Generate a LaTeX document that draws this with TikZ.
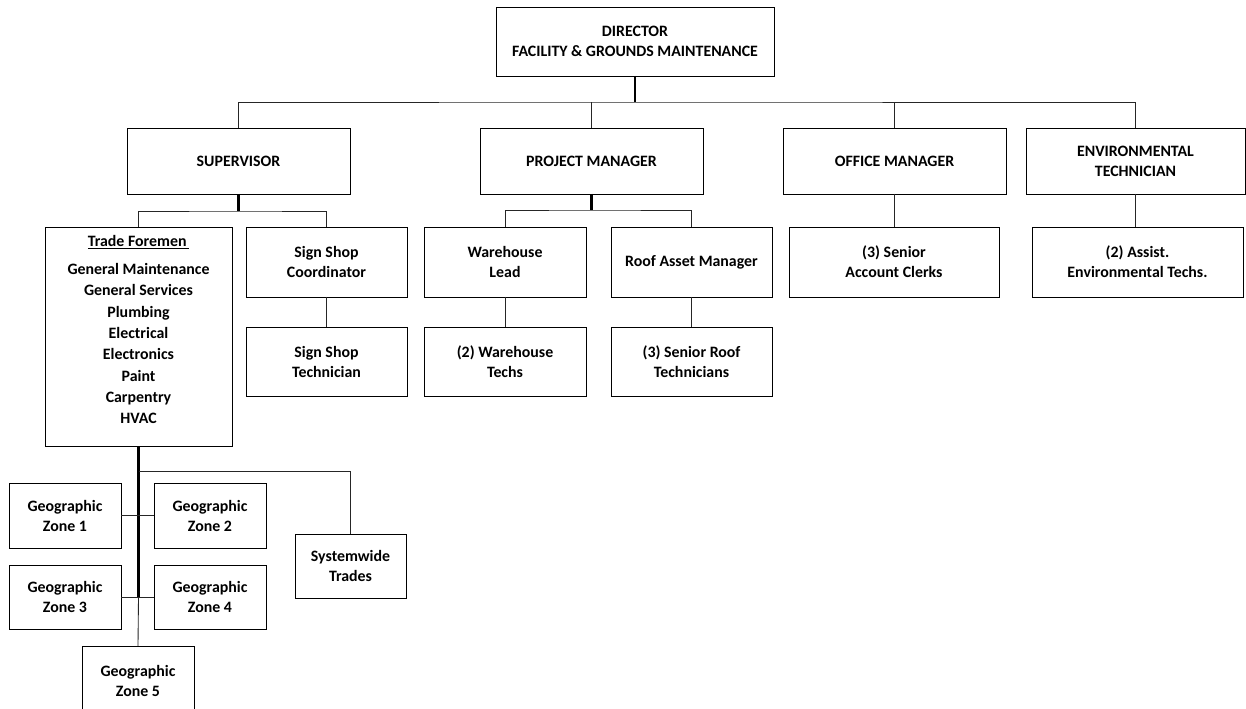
\documentclass[tikz,border=0pt]{standalone}
\usepackage{fontspec}
\setmainfont{Carlito}
\usetikzlibrary{calc}
\tikzset{
  box/.style={draw=black, line width=0.7pt, fill=white, inner sep=0pt, outer sep=0pt, align=center,
    font=\fontsize{11.9}{15}\selectfont\bfseries},
  txt/.style={inner sep=0pt, align=center, font=\fontsize{11.9}{15}\selectfont\bfseries},
  thn/.style={draw=black!85, line width=0.65pt},
  thk/.style={draw=black, line width=1.6pt},
}
\newcommand\bx[6]{\node[box, minimum width={(#4-#2)*0.75pt}, minimum height={(#5-#3)*0.75pt}] (#1) at ({(#2+#4)/2},{(#3+#5)/2}) {#6};}
\begin{document}
\begin{tikzpicture}[x=0.75pt,y=-0.75pt]
\useasboundingbox (0,0) rectangle (1246,709);
% level 0
\bx{dir}{496}{7}{774}{76}{DIRECTOR\\FACILITY \& GROUNDS MAINTENANCE}
% level 1
\bx{sup}{127}{128}{350}{194}{SUPERVISOR}
\bx{pm}{480}{128}{703}{194}{PROJECT MANAGER}
\bx{om}{783}{128}{1006}{194}{OFFICE MANAGER}
\bx{env}{1026}{128}{1245}{194}{ENVIRONMENTAL\\TECHNICIAN}
% level 2
\bx{tf}{45}{227}{232}{446}{}
\node[txt, anchor=north] (tft) at ($(tf.north)+(0,8)$) {\underline{Trade Foremen\,}\\[6pt]General Maintenance\\[1pt]General Services\\[1pt]Plumbing\\[1pt]Electrical\\[1pt]Electronics\\[1pt]Paint\\[1pt]Carpentry\\[1pt]HVAC};
\bx{ssc}{246}{227}{407}{297}{Sign Shop\\Coordinator}
\bx{sst}{246}{327}{407}{396}{Sign Shop\\Technician}
\bx{wl}{424}{227}{586}{297}{Warehouse\\Lead}
\bx{wt}{424}{327}{586}{396}{(2) Warehouse\\Techs}
\bx{ram}{611}{227}{772}{297}{Roof Asset Manager}
\bx{srt}{611}{327}{772}{396}{(3) Senior Roof\\Technicians}
\bx{sac}{789}{227}{999}{297}{(3) Senior\\Account Clerks}
\bx{aet}{1032}{227}{1243}{297}{(2) Assist.\\Environmental Techs.}
% level 3
\bx{z1}{9}{483}{121}{548}{Geographic\\Zone 1}
\bx{z2}{154}{483}{266}{548}{Geographic\\Zone 2}
\bx{z3}{9}{565}{121}{629}{Geographic\\Zone 3}
\bx{z4}{154}{565}{266}{629}{Geographic\\Zone 4}
\bx{z5}{82}{646}{194}{716}{Geographic\\Zone 5}
\bx{sys}{295}{534}{406}{598}{Systemwide\\Trades}
% connectors
\coordinate (b0) at (635,102);
\draw[thk] (dir.south) -- (b0);
\draw[thn] (sup.north) |- (b0) -| (env.north);
\draw[thn] (pm.north) -- (pm.north |- b0);
\draw[thn] (om.north) -- (om.north |- b0);
% supervisor
\coordinate (sb) at ($(sup.south)+(0,17)$);
\draw[thk] (sup.south) -- (sb);
\draw[thn] (tf.north) |- (sb) -| (ssc.north);
\draw[thn] (ssc.south) -- (sst.north);
% project manager
\coordinate (pb) at ($(pm.south)+(0,16)$);
\draw[thk] (pm.south) -- (pb);
\draw[thn] (wl.north) |- (pb) -| (ram.north);
\draw[thn] (wl.south) -- (wt.north);
\draw[thn] (ram.south) -- (srt.north);
% office / env
\draw[thn] (om.south) -- (om.south |- sac.north);
\draw[thn] (env.south) -- (env.south |- aet.north);
% trades
\coordinate (t0) at ($(tf.south)+(0,25)$);
\coordinate (t3) at (tf.south |- z3.east);
\draw[thk] (tf.south) -- (t3);
\draw[thn] (t3) -- (z5.north);
\draw[thn] (t0) -| (sys.north);
\draw[thn] (z1.east) -- (z2.west);
\draw[thn] (z3.east) -- (z4.west);
\end{tikzpicture}
\end{document}
